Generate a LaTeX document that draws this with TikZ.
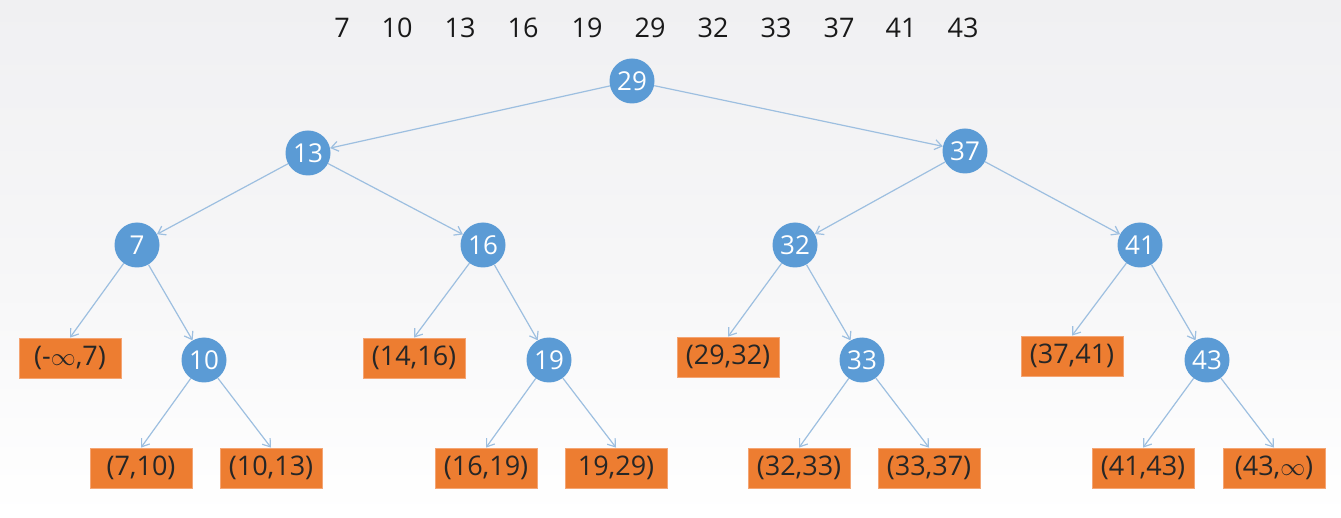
\documentclass[tikz,border=0pt]{standalone}
\usepackage{fontspec}
\setmainfont{Open Sans}
\usetikzlibrary{arrows.meta}
\definecolor{keyblue}{HTML}{5B9BD5}
\definecolor{edgeblue}{HTML}{9DBFE0}
\definecolor{gaporange}{HTML}{ED7D31}
\definecolor{gapedge}{HTML}{F4A574}
\definecolor{bgtop}{HTML}{F0F0F2}
\begin{document}
\begin{tikzpicture}[x=1pt,y=-1pt,
  key/.style={circle,fill=keyblue,text=white,minimum size=45pt,inner sep=0pt,
    font=\fontsize{26}{28}\selectfont},
  gap/.style={rectangle,fill=gaporange,draw=gapedge,line width=0.8pt,
    minimum width=102pt,minimum height=40pt,inner sep=0pt,
    text=black!85,font=\fontsize{27}{28}\selectfont},
  num/.style={font=\fontsize{27}{28}\selectfont,text=black!90},
  link/.style={draw=edgeblue,line width=1.2pt,-{Straight Barb[length=7pt,width=10pt]}}]
% background
\shade[top color=bgtop,bottom color=white,middle color=bgtop!60!white]
  (0,0) rectangle (1341,518);
\useasboundingbox (0,0) rectangle (1341,518);
% sorted keys
\foreach \v/\x [count=\i] in {7/342,10/397,13/460,16/523,19/587,29/650,32/713,33/776,37/839,41/901,43/963}
  \node[num] (k\i) at (\x,28) {\v};
% tree keys
\node[key] (n29) at (632,81) {29};
\node[key] (n13) at (308,153) {13};
\node[key] (n37) at (965,151) {37};
\node[key] (n7)  at (137,245) {7};
\node[key] (n16) at (483,245) {16};
\node[key] (n32) at (795,245) {32};
\node[key] (n41) at (1140,245) {41};
\node[key] (n10) at (204,360) {10};
\node[key] (n19) at (549,360) {19};
\node[key] (n33) at (862,360) {33};
\node[key] (n43) at (1207,360) {43};
% intervals
\node[gap] (g1) at (70,358) {(-$\infty$,7)};
\node[gap] (g4) at (414,358) {(14,16)};
\node[gap] (g6) at (728,357) {(29,32)};
\node[gap] (g9) at (1072,356) {(37,41)};
\node[gap] (g2) at (141,468) {(7,10)};
\node[gap] (g3) at (271,468) {(10,13)};
\node[gap] (g5) at (486,468) {(16,19)};
\node[gap] (g5b) at (616,468) {19,29)};
\node[gap] (g7) at (799,468) {(32,33)};
\node[gap] (g8) at (929,468) {(33,37)};
\node[gap] (g10) at (1143,468) {(41,43)};
\node[gap] (g11) at (1274,468) {(43,$\infty$)};
% links
\draw[link] (n29) -- (n13);
\draw[link] (n29) -- (n37);
\draw[link] (n13) -- (n7);
\draw[link] (n13) -- (n16);
\draw[link] (n37) -- (n32);
\draw[link] (n37) -- (n41);
\draw[link] (n7) -- (g1.north);
\draw[link] (n7) -- (n10);
\draw[link] (n16) -- (g4.north);
\draw[link] (n16) -- (n19);
\draw[link] (n32) -- (g6.north);
\draw[link] (n32) -- (n33);
\draw[link] (n41) -- (g9.north);
\draw[link] (n41) -- (n43);
\draw[link] (n10) -- (g2.north);
\draw[link] (n10) -- (g3.north);
\draw[link] (n19) -- (g5.north);
\draw[link] (n19) -- (g5b.north);
\draw[link] (n33) -- (g7.north);
\draw[link] (n33) -- (g8.north);
\draw[link] (n43) -- (g10.north);
\draw[link] (n43) -- (g11.north);
\end{tikzpicture}
\end{document}
